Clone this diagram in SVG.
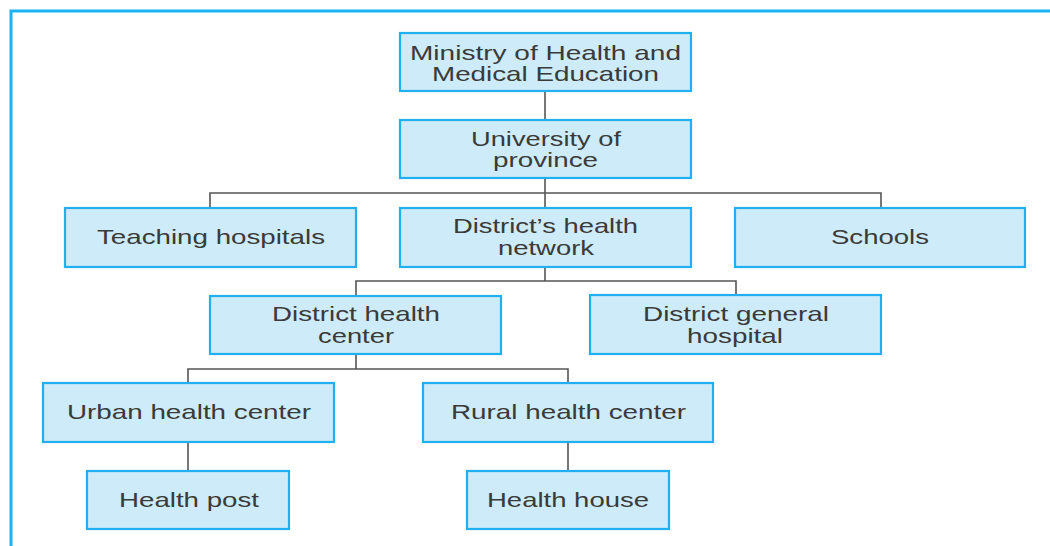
<svg xmlns="http://www.w3.org/2000/svg" width="1050" height="546" viewBox="0 0 1050 546">
<style>
.box{fill:#cdebf8;stroke:#21b0ef;stroke-width:2.2}
.t{font-family:"Liberation Sans",Arial,sans-serif;font-size:21px;fill:#3a3a3a;text-anchor:middle}
.c{fill:none;stroke:#555;stroke-width:1.6}
</style>
<rect width="1050" height="546" fill="#fff"/>
<path d="M11,546 V11 H1050" fill="none" stroke="#1ab2f2" stroke-width="3"/>
<g id="connectors">
<path class="c" d="M545,91 V120"/>
<path class="c" d="M545,178 V193 M210,208 V193 H881 V208 M545,193 V208"/>
<path class="c" d="M545,267 V281 M356,296 V281 H736 V295"/>
<path class="c" d="M356,354 V369 M188,383 V369 H568 V383"/>
<path class="c" d="M188,442 V471 M568,442 V471"/>
</g>
<g id="ministry"><rect class="box" x="400" y="33" width="291" height="58"/>
<text class="t" x="545.5" y="60" textLength="271" lengthAdjust="spacingAndGlyphs">Ministry of Health and</text>
<text class="t" x="545.5" y="81" textLength="227" lengthAdjust="spacingAndGlyphs">Medical Education</text></g>
<g id="university"><rect class="box" x="400" y="120" width="291" height="58"/>
<text class="t" x="546" y="146" textLength="150" lengthAdjust="spacingAndGlyphs">University of</text>
<text class="t" x="545.5" y="167" textLength="105" lengthAdjust="spacingAndGlyphs">province</text></g>
<g id="teaching"><rect class="box" x="65" y="208" width="291" height="59"/>
<text class="t" x="211" y="244" textLength="228" lengthAdjust="spacingAndGlyphs">Teaching hospitals</text></g>
<g id="network"><rect class="box" x="400" y="208" width="291" height="59"/>
<text class="t" x="545.5" y="233" textLength="185" lengthAdjust="spacingAndGlyphs">District’s health</text>
<text class="t" x="546" y="255" textLength="96" lengthAdjust="spacingAndGlyphs">network</text></g>
<g id="schools"><rect class="box" x="735" y="208" width="290" height="59"/>
<text class="t" x="880" y="244" textLength="98" lengthAdjust="spacingAndGlyphs">Schools</text></g>
<g id="dhc"><rect class="box" x="210" y="296" width="291" height="58"/>
<text class="t" x="356" y="321" textLength="168" lengthAdjust="spacingAndGlyphs">District health</text>
<text class="t" x="356" y="343" textLength="76" lengthAdjust="spacingAndGlyphs">center</text></g>
<g id="dgh"><rect class="box" x="590" y="295" width="291" height="59"/>
<text class="t" x="736" y="321" textLength="186" lengthAdjust="spacingAndGlyphs">District general</text>
<text class="t" x="735" y="343" textLength="96" lengthAdjust="spacingAndGlyphs">hospital</text></g>
<g id="urban"><rect class="box" x="43" y="383" width="291" height="59"/>
<text class="t" x="189" y="419" textLength="244" lengthAdjust="spacingAndGlyphs">Urban health center</text></g>
<g id="rural"><rect class="box" x="423" y="383" width="290" height="59"/>
<text class="t" x="568.5" y="419" textLength="235" lengthAdjust="spacingAndGlyphs">Rural health center</text></g>
<g id="post"><rect class="box" x="87" y="471" width="202" height="58"/>
<text class="t" x="189" y="507" textLength="140" lengthAdjust="spacingAndGlyphs">Health post</text></g>
<g id="house"><rect class="box" x="467" y="471" width="202" height="58"/>
<text class="t" x="568" y="507" textLength="162" lengthAdjust="spacingAndGlyphs">Health house</text></g>
</svg>
